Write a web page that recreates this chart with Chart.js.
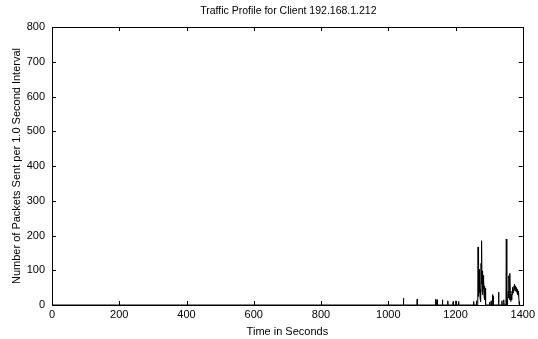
<!DOCTYPE html>
<html>
<head>
<meta charset="utf-8">
<script src="https://cdn.jsdelivr.net/npm/chart.js@4/dist/chart.umd.min.js"></script>
<style>
  body { margin: 0; background: #fff; }
  canvas { display: block; }
</style>
</head>
<body>
<canvas id="traffic" width="538" height="339"></canvas>
<script>
// time (s) and packets per 1.0 s interval
const seconds = [
    0, 1044, 1045, 1046, 1085, 1086, 1087,
    1140, 1141, 1142, 1144, 1145, 1146, 1160, 1161, 1162,
    1176, 1177, 1178, 1192, 1193, 1194, 1200, 1201, 1202, 1208, 1209, 1210,
    1253, 1254, 1255, 1261, 1262, 1263,
    1266, 1267, 1268, 1269, 1270, 1271, 1272, 1273, 1274, 1275, 1276, 1277, 1278,
    1279, 1280, 1281, 1282, 1283, 1284, 1285, 1286, 1287, 1288, 1289, 1290,
    1300, 1301, 1302, 1305, 1306, 1307, 1308, 1309, 1310, 1311, 1312, 1313,
    1327, 1328, 1329, 1337, 1338, 1339, 1342, 1343, 1344, 1345,
    1350, 1351, 1352, 1353, 1354, 1356, 1357, 1358, 1359, 1360, 1361, 1362, 1363,
    1364, 1365, 1366, 1367, 1368, 1369, 1370, 1371, 1372, 1373, 1374, 1375, 1376,
    1377, 1378, 1379, 1380, 1381, 1382, 1383, 1384, 1385, 1386, 1387, 1388, 1389,
    1390, 1392
];
const packets = [
    0, 0, 19, 0, 0, 17, 0,
    0, 17, 0, 0, 15, 0, 0, 15, 0,
    0, 12, 0, 0, 10, 0, 0, 12, 0, 0, 10, 0,
    0, 10, 0, 0, 12, 0,
    0, 167, 55, 25, 103, 35, 72, 20, 45, 10, 120, 60, 185,
    40, 98, 30, 85, 45, 74, 25, 55, 15, 48, 5, 0,
    0, 8, 0, 0, 12, 5, 0, 0, 30, 12, 26, 0,
    0, 37, 0, 0, 12, 0, 0, 15, 8, 0,
    0, 190, 0, 10, 0, 0, 40, 20, 84, 30, 15, 91, 25,
    10, 20, 30, 15, 40, 30, 51, 35, 45, 40, 55, 45, 60,
    40, 55, 45, 50, 38, 50, 35, 45, 30, 40, 25, 35, 10,
    0, 0
];

const title = "Traffic Profile for Client 192.168.1.212";
const xTitle = "Time in Seconds";
const yTitle = "Number of Packets Sent per 1.0 Second Interval";

const font = "'Liberation Sans', Arial, Helvetica, sans-serif";

// gnuplot style frame with inward ticks on all four sides,
// title centred over the plot area rather than the whole canvas
const framePlugin = {
    id: "frame",
    afterDatasetsDraw(chart) {
        const { ctx, chartArea: a, scales } = chart;
        const len = 4;
        ctx.save();
        ctx.strokeStyle = "#000";
        ctx.lineWidth = 1;
        ctx.beginPath();
        scales.x.ticks.forEach((t) => {
            const px = Math.round(scales.x.getPixelForValue(t.value)) + 0.5;
            ctx.moveTo(px, a.bottom);
            ctx.lineTo(px, a.bottom - len);
            ctx.moveTo(px, a.top);
            ctx.lineTo(px, a.top + len);
        });
        scales.y.ticks.forEach((t) => {
            const py = Math.round(scales.y.getPixelForValue(t.value)) + 0.5;
            ctx.moveTo(a.left, py);
            ctx.lineTo(a.left + len, py);
            ctx.moveTo(a.right, py);
            ctx.lineTo(a.right - len, py);
        });
        ctx.stroke();
        ctx.strokeRect(Math.round(a.left) + 0.5, Math.round(a.top) + 0.5,
            Math.round(a.right - a.left), Math.round(a.bottom - a.top));

        ctx.fillStyle = "#000";
        ctx.font = "10.5px " + font;
        ctx.textAlign = "center";
        ctx.textBaseline = "middle";
        ctx.fillText(title, (a.left + a.right) / 2 + 1, 11);
        ctx.restore();
    },
};

new Chart(document.getElementById("traffic").getContext("2d"), {
    type: "line",
    data: {
        datasets: [
            {
                data: seconds.map((s, i) => ({ x: s, y: packets[i] })),
                borderColor: "#000",
                borderWidth: 1,
                pointRadius: 0,
                fill: false,
                tension: 0,
            },
        ],
    },
    plugins: [framePlugin],
    options: {
        responsive: false,
        animation: false,
        layout: { padding: { left: 0, right: 14, top: 27, bottom: 0 } },
        plugins: {
            legend: { display: false },
            tooltip: { enabled: false },
        },
        scales: {
            x: {
                type: "linear",
                min: 0,
                max: 1400,
                grid: { display: false, drawTicks: false },
                border: { display: false },
                ticks: {
                    stepSize: 200,
                    padding: 3,
                    color: "#000",
                    maxRotation: 0,
                    font: { family: font, size: 11 },
                    callback: (v) => String(v),
                },
                title: {
                    display: true,
                    text: xTitle,
                    color: "#000",
                    font: { family: font, size: 11 },
                    padding: { top: 1, bottom: 0 },
                },
                afterFit(scale) { scale.height = 34; },
            },
            y: {
                min: 0,
                max: 800,
                grid: { display: false, drawTicks: false },
                border: { display: false },
                ticks: {
                    stepSize: 100,
                    padding: 7,
                    color: "#000",
                    font: { family: font, size: 11 },
                    callback: (v) => String(v),
                },
                title: {
                    display: true,
                    text: yTitle,
                    color: "#000",
                    font: { family: font, size: 11 },
                    padding: { top: 10, bottom: 0 },
                },
                afterFit(scale) { scale.width = 52; },
            },
        },
    },
});
</script>
</body>
</html>
